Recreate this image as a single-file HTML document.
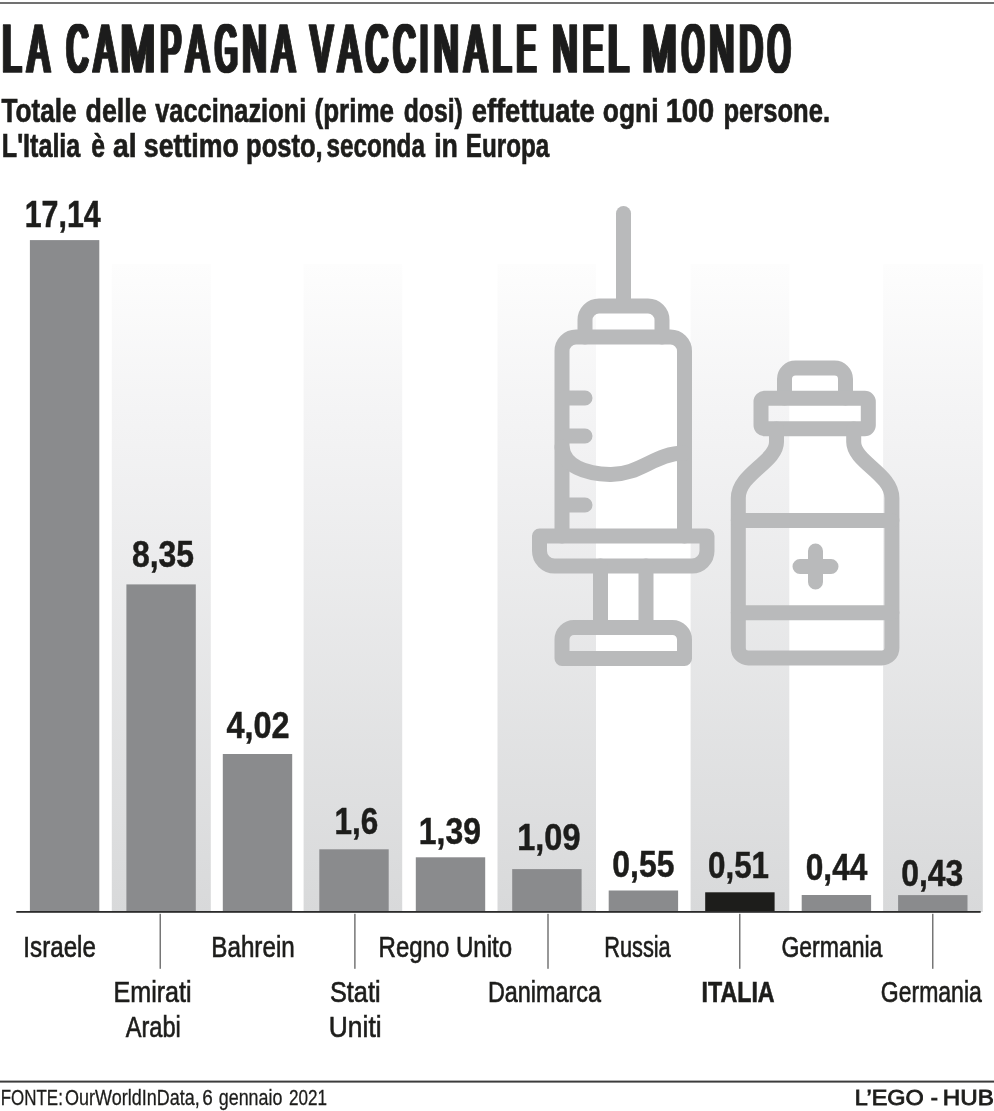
<!DOCTYPE html>
<html lang="it"><head><meta charset="utf-8"><title>La campagna vaccinale nel mondo</title>
<style>html,body{margin:0;padding:0;background:#fff}svg{display:block}</style></head><body>
<svg width="994" height="1111" viewBox="0 0 994 1111" font-family="'Liberation Sans', sans-serif" fill="#1d1d1b">
<defs><linearGradient id="g" x1="0" y1="0" x2="0" y2="1"><stop offset="0" stop-color="#fdfdfd"/><stop offset="0.25" stop-color="#f3f3f4"/><stop offset="1" stop-color="#d8d9da"/></linearGradient><filter id="fat" filterUnits="userSpaceOnUse" x="-20" y="-20" width="1040" height="340"><feMorphology operator="dilate" radius="2.2 0"/></filter></defs>
<rect width="994" height="1111" fill="#fff"/>
<rect x="0" y="2" width="994" height="2" fill="#717171"/>
<text y="72.2" font-size="69" stroke="#1d1d1b" stroke-width="1.5" stroke-linejoin="round" filter="url(#fat)">
<tspan x="2.53" textLength="18.6" lengthAdjust="spacingAndGlyphs">L</tspan><tspan x="27.79" textLength="21.41" lengthAdjust="spacingAndGlyphs">A</tspan><tspan x="56" font-size="20"> </tspan><tspan x="66.8" textLength="21.25" lengthAdjust="spacingAndGlyphs">C</tspan><tspan x="94.37" textLength="21.85" lengthAdjust="spacingAndGlyphs">A</tspan><tspan x="120.73" textLength="34.15" lengthAdjust="spacingAndGlyphs">M</tspan><tspan x="160.5" textLength="20.53" lengthAdjust="spacingAndGlyphs">P</tspan><tspan x="186.43" textLength="21.83" lengthAdjust="spacingAndGlyphs">A</tspan><tspan x="215.13" textLength="22.1" lengthAdjust="spacingAndGlyphs">G</tspan><tspan x="242.5" textLength="24.02" lengthAdjust="spacingAndGlyphs">N</tspan><tspan x="272.59" textLength="21.86" lengthAdjust="spacingAndGlyphs">A</tspan><tspan x="301" font-size="20"> </tspan><tspan x="310.68" textLength="21.68" lengthAdjust="spacingAndGlyphs">V</tspan><tspan x="338.59" textLength="21.86" lengthAdjust="spacingAndGlyphs">A</tspan><tspan x="365.91" textLength="21.7" lengthAdjust="spacingAndGlyphs">C</tspan><tspan x="393.42" textLength="21.71" lengthAdjust="spacingAndGlyphs">C</tspan><tspan x="420.3" textLength="7.55" lengthAdjust="spacingAndGlyphs">I</tspan><tspan x="433.9" textLength="24.52" lengthAdjust="spacingAndGlyphs">N</tspan><tspan x="464.77" textLength="21.85" lengthAdjust="spacingAndGlyphs">A</tspan><tspan x="492.6" textLength="18.58" lengthAdjust="spacingAndGlyphs">L</tspan><tspan x="516.8" textLength="19.07" lengthAdjust="spacingAndGlyphs">E</tspan><tspan x="543" font-size="20"> </tspan><tspan x="552.5" textLength="25.02" lengthAdjust="spacingAndGlyphs">N</tspan><tspan x="583.0" textLength="20.05" lengthAdjust="spacingAndGlyphs">E</tspan><tspan x="607.9" textLength="20.52" lengthAdjust="spacingAndGlyphs">L</tspan><tspan x="634" font-size="20"> </tspan><tspan x="642.44" textLength="34.15" lengthAdjust="spacingAndGlyphs">M</tspan><tspan x="682.22" textLength="21.71" lengthAdjust="spacingAndGlyphs">O</tspan><tspan x="709.5" textLength="24.5" lengthAdjust="spacingAndGlyphs">N</tspan><tspan x="739.6" textLength="23.06" lengthAdjust="spacingAndGlyphs">D</tspan><tspan x="768.03" textLength="22.17" lengthAdjust="spacingAndGlyphs">O</tspan>
</text>
<text y="121.7" font-size="33.8" font-weight="bold" stroke="#1d1d1b" stroke-width="0.7"><tspan x="1.5" textLength="75.01" lengthAdjust="spacingAndGlyphs">Totale</tspan> <tspan x="85.57" textLength="61.04" lengthAdjust="spacingAndGlyphs">delle</tspan> <tspan x="155.2" textLength="151.02" lengthAdjust="spacingAndGlyphs">vaccinazioni</tspan> <tspan x="314.48" textLength="79.52" lengthAdjust="spacingAndGlyphs">(prime</tspan> <tspan x="403.76" textLength="59.08" lengthAdjust="spacingAndGlyphs">dosi)</tspan> <tspan x="471.68" textLength="123.03" lengthAdjust="spacingAndGlyphs">effettuate</tspan> <tspan x="602.86" textLength="55.61" lengthAdjust="spacingAndGlyphs">ogni</tspan> <tspan x="665.66" textLength="48.57" lengthAdjust="spacingAndGlyphs">100</tspan> <tspan x="723.47" textLength="106.58" lengthAdjust="spacingAndGlyphs">persone.</tspan></text>
<text y="157.4" font-size="33.8" font-weight="bold" stroke="#1d1d1b" stroke-width="0.7"><tspan x="1.8" textLength="78.51" lengthAdjust="spacingAndGlyphs">L'Italia</tspan> <tspan x="91.36" textLength="13.75" lengthAdjust="spacingAndGlyphs">è</tspan> <tspan x="112.99" textLength="23.67" lengthAdjust="spacingAndGlyphs">al</tspan> <tspan x="143.78" textLength="95.04" lengthAdjust="spacingAndGlyphs">settimo</tspan> <tspan x="246.07" textLength="76.58" lengthAdjust="spacingAndGlyphs">posto,</tspan> <tspan x="326.4" textLength="98.5" lengthAdjust="spacingAndGlyphs">seconda</tspan> <tspan x="434.17" textLength="23.77" lengthAdjust="spacingAndGlyphs">in</tspan> <tspan x="465.8" textLength="83.51" lengthAdjust="spacingAndGlyphs">Europa</tspan></text>
<rect x="111.8" y="264" width="99.0" height="648" fill="url(#g)"/>
<rect x="303.6" y="264" width="98.6" height="648" fill="url(#g)"/>
<rect x="497.5" y="264" width="98.5" height="648" fill="url(#g)"/>
<rect x="690.6" y="264" width="98.7" height="648" fill="url(#g)"/>
<rect x="883.1" y="264" width="99.7" height="648" fill="url(#g)"/>
<g fill="none" stroke="#b9babb" stroke-width="15" stroke-linecap="round" stroke-linejoin="round">
<path d="M623.5 213.5V305"/>
<path d="M585 337V320a14 14 0 0 1 14 -14h49a14 14 0 0 1 14 14V337"/>
<path d="M562 536V351a14 14 0 0 1 14 -14h94.500a14 14 0 0 1 14 14V536"/>
<path d="M565 398h20M565 436h20M565 505h20"/>
<path d="M562 447C564 466 585 474 610 474.500C640 475 655 453 684 453"/>
<path d="M539.500 536H707V551a15 15 0 0 1 -15 15H554.500a15 15 0 0 1 -15 -15Z"/>
<path d="M600.500 566V627M646 566V627"/>
<path d="M562 658.500V639.500a12 12 0 0 1 12 -12h98.500a12 12 0 0 1 12 12V658.500Z"/>
<path d="M784.500 398V379a11 11 0 0 1 11 -11h39a11 11 0 0 1 11 11V398"/>
<rect x="761" y="398.300" width="107.300" height="30.500" rx="3.500"/>
<path d="M776.500 429V442C776.500 462 738.300 474 738.300 498V648a10 10 0 0 0 10 10H881.900a10 10 0 0 0 10 -10V498C891.900 474 853.700 462 853.700 442V429"/>
<path d="M738.300 520.600H891.900M738.300 612.700H891.900"/>
<path d="M800 566.500h31M815.500 551v31"/>
</g>
<rect x="29.9" y="240.1" width="69.4" height="671.5" fill="#8a8b8d"/>
<rect x="126.4" y="584.4" width="69.4" height="327.2" fill="#8a8b8d"/>
<rect x="222.8" y="754.0" width="69.4" height="157.6" fill="#8a8b8d"/>
<rect x="319.3" y="849.3" width="69.4" height="62.3" fill="#8a8b8d"/>
<rect x="415.8" y="857.3" width="69.4" height="54.3" fill="#8a8b8d"/>
<rect x="512.2" y="869.1" width="69.4" height="42.5" fill="#8a8b8d"/>
<rect x="608.7" y="890.5" width="69.4" height="21.1" fill="#8a8b8d"/>
<rect x="705.2" y="892.3" width="69.4" height="19.3" fill="#1d1d1b"/>
<rect x="801.7" y="895.0" width="69.4" height="16.6" fill="#8a8b8d"/>
<rect x="898.1" y="895.1" width="69.4" height="16.5" fill="#8a8b8d"/>
<text x="24.66" y="226.8" font-size="37" font-weight="bold" textLength="76.04" lengthAdjust="spacingAndGlyphs" stroke="#1d1d1b" stroke-width="0.5">17,14</text>
<text x="131.97" y="567.3" font-size="37" font-weight="bold" textLength="62.07" lengthAdjust="spacingAndGlyphs" stroke="#1d1d1b" stroke-width="0.5">8,35</text>
<text x="226.4" y="737.6" font-size="37" font-weight="bold" textLength="63.03" lengthAdjust="spacingAndGlyphs" stroke="#1d1d1b" stroke-width="0.5">4,02</text>
<text x="334.51" y="834.4" font-size="37" font-weight="bold" textLength="43.74" lengthAdjust="spacingAndGlyphs" stroke="#1d1d1b" stroke-width="0.5">1,6</text>
<text x="418.81" y="843.6" font-size="37" font-weight="bold" textLength="62.12" lengthAdjust="spacingAndGlyphs" stroke="#1d1d1b" stroke-width="0.5">1,39</text>
<text x="517.29" y="849.6" font-size="37" font-weight="bold" textLength="63.16" lengthAdjust="spacingAndGlyphs" stroke="#1d1d1b" stroke-width="0.5">1,09</text>
<text x="612.37" y="877.2" font-size="37" font-weight="bold" textLength="62.04" lengthAdjust="spacingAndGlyphs" stroke="#1d1d1b" stroke-width="0.5">0,55</text>
<text x="707.98" y="878.0" font-size="37" font-weight="bold" textLength="61.04" lengthAdjust="spacingAndGlyphs" stroke="#1d1d1b" stroke-width="0.5">0,51</text>
<text x="805.79" y="880.0" font-size="37" font-weight="bold" textLength="61.52" lengthAdjust="spacingAndGlyphs" stroke="#1d1d1b" stroke-width="0.5">0,44</text>
<text x="901.17" y="886.0" font-size="37" font-weight="bold" textLength="62.04" lengthAdjust="spacingAndGlyphs" stroke="#1d1d1b" stroke-width="0.5">0,43</text>
<rect x="16.3" y="911" width="964.4" height="1.8" fill="#2b2b2b"/>
<rect x="159.6" y="913.8" width="1.2" height="55" fill="#555"/>
<rect x="354.3" y="913.8" width="1.2" height="55" fill="#555"/>
<rect x="547.4" y="913.8" width="1.2" height="55" fill="#555"/>
<rect x="739.2" y="913.8" width="1.2" height="55" fill="#555"/>
<rect x="932.2" y="913.8" width="1.2" height="55" fill="#555"/>
<text x="23.32" y="957.4" font-size="29.8" textLength="72.62" lengthAdjust="spacingAndGlyphs" stroke="#1d1d1b" stroke-width="0.65">Israele</text>
<text x="113.51" y="1001.6" font-size="29.8" textLength="78.13" lengthAdjust="spacingAndGlyphs" stroke="#1d1d1b" stroke-width="0.65">Emirati</text>
<text x="125.8" y="1036.8" font-size="29.8" textLength="55.02" lengthAdjust="spacingAndGlyphs" stroke="#1d1d1b" stroke-width="0.65">Arabi</text>
<text x="211.23" y="957.4" font-size="29.8" textLength="83.6" lengthAdjust="spacingAndGlyphs" stroke="#1d1d1b" stroke-width="0.65">Bahrein</text>
<text x="329.96" y="1001.6" font-size="29.8" textLength="50.62" lengthAdjust="spacingAndGlyphs" stroke="#1d1d1b" stroke-width="0.65">Stati</text>
<text x="328.83" y="1036.8" font-size="29.8" textLength="52.76" lengthAdjust="spacingAndGlyphs" stroke="#1d1d1b" stroke-width="0.65">Uniti</text>
<text x="378.55" y="957.4" font-size="29.8" textLength="133.56" lengthAdjust="spacingAndGlyphs" stroke="#1d1d1b" stroke-width="0.65">Regno Unito</text>
<text x="487.98" y="1001.6" font-size="29.8" textLength="113.02" lengthAdjust="spacingAndGlyphs" stroke="#1d1d1b" stroke-width="0.65">Danimarca</text>
<text x="604.19" y="957.4" font-size="29.8" textLength="66.52" lengthAdjust="spacingAndGlyphs" stroke="#1d1d1b" stroke-width="0.65">Russia</text>
<text x="701.58" y="1001.6" font-size="29.8" font-weight="bold" textLength="73.03" lengthAdjust="spacingAndGlyphs" stroke="#1d1d1b" stroke-width="0.65">ITALIA</text>
<text x="781.39" y="957.4" font-size="29.8" textLength="101.01" lengthAdjust="spacingAndGlyphs" stroke="#1d1d1b" stroke-width="0.65">Germania</text>
<text x="880.8" y="1001.6" font-size="29.8" textLength="101.01" lengthAdjust="spacingAndGlyphs" stroke="#1d1d1b" stroke-width="0.65">Germania</text>
<rect x="0" y="1080.600" width="994" height="2" fill="#3c3c3c"/>
<text y="1104.8" font-size="22.3" stroke="#1d1d1b" stroke-width="0.3"><tspan x="0.76" textLength="62.11" lengthAdjust="spacingAndGlyphs">FONTE:</tspan> <tspan x="65.08" textLength="134.56" lengthAdjust="spacingAndGlyphs">OurWorldInData,</tspan> <tspan x="202.33" textLength="10.54" lengthAdjust="spacingAndGlyphs">6</tspan> <tspan x="218.77" textLength="63.55" lengthAdjust="spacingAndGlyphs">gennaio</tspan> <tspan x="288.95" textLength="38.07" lengthAdjust="spacingAndGlyphs">2021</tspan></text>
<text y="1104.5" font-size="21.4" stroke="#1d1d1b" stroke-width="0.8"><tspan x="854.78" textLength="69.04" lengthAdjust="spacingAndGlyphs">L’EGO</tspan> <tspan x="930.69" textLength="7.21" lengthAdjust="spacingAndGlyphs">-</tspan> <tspan x="942.74" textLength="51.1" lengthAdjust="spacingAndGlyphs">HUB</tspan></text>
</svg></body></html>
